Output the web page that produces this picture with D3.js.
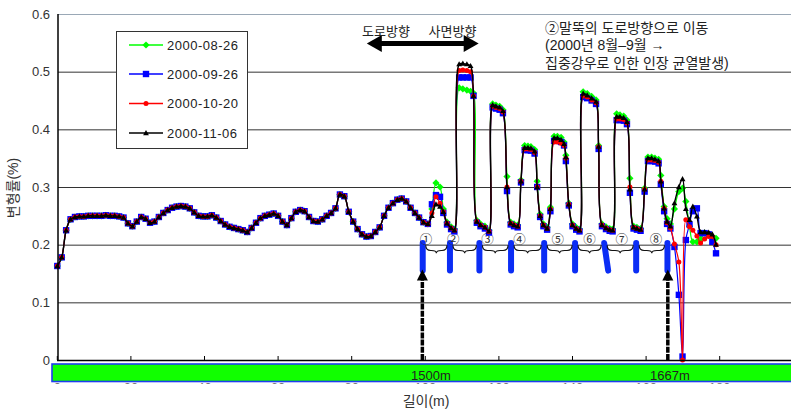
<!DOCTYPE html>
<html>
<head>
<meta charset="utf-8">
<script src="https://cdn.jsdelivr.net/npm/d3@7"></script>
<style>
  body { margin: 0; background: #fff; }
  text { font-family: "Liberation Sans", "Noto Sans CJK KR", sans-serif; }
</style>
</head>
<body>
<div id="chart"></div>
<script>
"use strict";

// measuring points along the slope (x axis units)
var dist = [
  0, 1.2, 2.4, 3.6, 4.8, 6, 7.2, 8.4, 9.6, 10.8,
  12, 13.2, 14.4, 15.6, 16.8, 18, 19.2, 20.4, 21.6, 22.8,
  24, 25.2, 26.4, 27.6, 28.8, 30, 31.2, 32.4, 33.6, 34.8,
  36, 37.2, 38.4, 39.6, 40.8, 42, 43.2, 44.4, 45.6, 46.8,
  48, 49.2, 50.4, 51.6, 52.8, 54, 55.2, 56.4, 57.6, 58.8,
  60, 61.2, 62.4, 63.6, 64.8, 66, 67.2, 68.4, 69.6, 70.8,
  72, 73.2, 74.4, 75.6, 76.8, 78, 79.2, 80.4, 81.6, 82.8,
  84, 85.2, 86.4, 87.6, 88.8, 90, 91.2, 92.4, 93.6, 94.8,
  96.0, 97.2, 98.3, 99.5, 100.7, 101.8, 102.9, 104.0, 104.9, 105.9,
  107.0, 107.9, 109.2, 110.2, 111.3, 112.3, 113.1, 114.0, 115.0, 116.2,
  117.3, 118.3, 119.2, 120.2, 121.1, 122.2, 123.2, 124.1, 125.1, 126.0,
  127.0, 127.9, 128.7, 129.7, 130.4, 131.2, 132.1, 133.1, 134.0, 135.0,
  135.9, 136.9, 137.7, 138.2, 139.0, 140.0, 141.0, 141.9, 142.9, 144.0,
  145.2, 146.4, 147.1, 148.0, 149.1, 150.1, 150.9, 152.0, 152.9, 153.9,
  154.8, 155.6, 156.6, 157.5, 158.5, 159.6, 160.5, 161.5, 162.4, 163.4,
  164.0, 164.9, 165.7, 166.6, 167.7, 168.9, 169.9, 170.8, 171.8, 172.7,
  173.8, 174.8, 175.9, 177.0, 178.0, 179.0
];

// first 85 points: the four surveys lie on top of each other
var lead = [
  0.163, 0.178, 0.225, 0.244, 0.248, 0.249, 0.249, 0.250, 0.250, 0.250,
  0.250, 0.251, 0.250, 0.250, 0.249, 0.247, 0.237, 0.232, 0.240, 0.248,
  0.245, 0.238, 0.240, 0.248, 0.255, 0.260, 0.264, 0.266, 0.267, 0.266,
  0.263, 0.256, 0.250, 0.249, 0.249, 0.251, 0.247, 0.241, 0.235, 0.231,
  0.229, 0.227, 0.225, 0.222, 0.229, 0.238, 0.246, 0.250, 0.252, 0.254,
  0.250, 0.240, 0.234, 0.246, 0.257, 0.260, 0.258, 0.248, 0.241, 0.240,
  0.244, 0.250, 0.255, 0.263, 0.287, 0.284, 0.257, 0.240, 0.227, 0.218,
  0.214, 0.215, 0.222, 0.230, 0.250, 0.264, 0.272, 0.278, 0.280, 0.275,
  0.264, 0.255, 0.247, 0.239, 0.236
];

var tail0826 = [
  0.262, 0.307, 0.300, 0.262, 0.239, 0.231, 0.227,
  0.472, 0.470, 0.468, 0.466, 0.463, 0.242, 0.236, 0.232, 0.225,
  0.444, 0.442, 0.440, 0.434, 0.318, 0.239, 0.236, 0.234,
  0.312, 0.372, 0.371, 0.370, 0.365, 0.310, 0.253, 0.236, 0.230,
  0.265, 0.388, 0.388, 0.386, 0.378, 0.355, 0.272, 0.236, 0.230, 0.227,
  0.465, 0.462, 0.457, 0.451, 0.372, 0.236, 0.231, 0.228, 0.227,
  0.427, 0.425, 0.423, 0.416, 0.315, 0.232, 0.230, 0.228,
  0.298, 0.352, 0.352, 0.350, 0.348, 0.320, 0.266, 0.245,
  0.236, 0.262, 0.292, 0.298, 0.275, 0.232, 0.205, 0.205, 0.210, 0.220, 0.218, 0.214, 0.211
];
var tail0926 = [
  0.270, 0.286, 0.283, 0.255, 0.235, 0.227, 0.223,
  0.490, 0.490, 0.490, 0.490, 0.458, 0.238, 0.232, 0.228, 0.221,
  0.438, 0.436, 0.434, 0.428, 0.293, 0.235, 0.232, 0.230,
  0.308, 0.364, 0.364, 0.363, 0.358, 0.300, 0.248, 0.232, 0.226,
  0.258, 0.380, 0.380, 0.378, 0.372, 0.345, 0.268, 0.232, 0.226, 0.223,
  0.456, 0.454, 0.450, 0.444, 0.366, 0.232, 0.227, 0.224, 0.223,
  0.416, 0.416, 0.415, 0.409, 0.290, 0.228, 0.226, 0.224,
  0.292, 0.345, 0.345, 0.344, 0.341, 0.305, 0.258, 0.236,
  0.228, 0.196, 0.113, 0.006, 0.208, 0.235, 0.258, 0.263, 0.220, 0.220, 0.218, 0.205, 0.185
];
var tail1020 = [
  0.255, 0.283, 0.272, 0.257, 0.237, 0.229, 0.225,
  0.502, 0.503, 0.502, 0.500, 0.458, 0.240, 0.234, 0.230, 0.223,
  0.440, 0.438, 0.436, 0.430, 0.300, 0.237, 0.234, 0.232,
  0.310, 0.366, 0.366, 0.365, 0.360, 0.300, 0.250, 0.234, 0.228,
  0.262, 0.378, 0.378, 0.376, 0.372, 0.350, 0.270, 0.234, 0.228, 0.225,
  0.458, 0.456, 0.451, 0.446, 0.370, 0.234, 0.229, 0.226, 0.225,
  0.418, 0.418, 0.417, 0.411, 0.300, 0.230, 0.228, 0.226,
  0.296, 0.347, 0.347, 0.346, 0.343, 0.310, 0.263, 0.238,
  0.229, 0.201, 0.170, 0.000, 0.243, 0.231, 0.225, 0.215, 0.203, 0.210, 0.214, 0.214, 0.200
];
var tail1106 = [
  0.250, 0.270, 0.266, 0.257, 0.237, 0.229, 0.225,
  0.513, 0.514, 0.513, 0.510, 0.458, 0.240, 0.234, 0.230, 0.223,
  0.442, 0.440, 0.438, 0.432, 0.300, 0.237, 0.234, 0.232,
  0.310, 0.368, 0.368, 0.367, 0.362, 0.300, 0.250, 0.234, 0.228,
  0.262, 0.385, 0.385, 0.382, 0.375, 0.352, 0.270, 0.234, 0.228, 0.225,
  0.462, 0.459, 0.454, 0.448, 0.370, 0.234, 0.229, 0.226, 0.225,
  0.422, 0.422, 0.420, 0.413, 0.296, 0.230, 0.228, 0.226,
  0.296, 0.350, 0.350, 0.348, 0.345, 0.310, 0.263, 0.240,
  0.232, 0.272, 0.300, 0.314, 0.262, 0.243, 0.266, 0.249, 0.222, 0.222, 0.221, 0.218, 0.200
];

var names = ["2000-08-26", "2000-09-26", "2000-10-20", "2000-11-06"];
var colors = ["#00ff00", "#0000ff", "#ff0000", "#000000"];
var shapes = ["diamond", "square", "circle", "triangle"];
var tails = [tail0826, tail0926, tail1020, tail1106];

var yTicks = [0, 0.1, 0.2, 0.3, 0.4, 0.5, 0.6];
var xTicks = [0, 20, 40, 60, 80, 100, 120, 140, 160, 180, 200];
var xTickLabels = [0, 20, 40, 60, 80, 100, 120, 140, 160, 180];

// piles (blue bars), their numbers and the two marked stations
var pileTopX = [99.3, 106.7, 114.7, 123.3, 132.3, 140.7, 148.6, 157.3, 165.8];
var pileBotX = [99.3, 106.7, 114.7, 123.3, 132.3, 140.7, 149.7, 157.3, 165.8];
var pileNames = ["①", "②", "③", "④", "⑤", "⑥", "⑦", "⑧"];
var pileNameX = [100.2, 107.6, 116.9, 125.6, 136.0, 144.6, 153.4, 162.7];
var stationX = [99.2, 165.9];
var stationNames = ["1500m", "1667m"];

var series = names.map(function (n, i) {
  var v = lead.concat(tails[i]);
  if (v.length !== dist.length) throw new Error(n + " has " + v.length + " points");
  return { name: n, color: colors[i], shape: shapes[i],
           points: v.map(function (d, j) { return { x: dist[j], y: d }; }) };
});

var W = 791, H = 411;
var svg = d3.select("#chart").append("svg").attr("width", W).attr("height", H);
var x = d3.scaleLinear().domain([0, 200]).range([57.3, 793.3]);
var y = d3.scaleLinear().domain([0, 0.6]).range([360, 14]);

// gridlines
svg.selectAll("line.grid").data(yTicks.slice(1)).enter().append("line")
  .attr("x1", 58).attr("x2", W)
  .attr("y1", function (d) { return y(d) + 0.5; }).attr("y2", function (d) { return y(d) + 0.5; })
  .attr("stroke", function (d) { return d === 0.6 ? "#9aa8b6" : "#333"; })
  .attr("stroke-width", 1);

// y labels
svg.selectAll("text.ytick").data(yTicks).enter().append("text")
  .attr("x", 50).attr("y", function (d) { return y(d); })
  .attr("dy", "0.35em").attr("text-anchor", "end")
  .attr("font-size", 13).attr("fill", "#333")
  .text(function (d) { return d === 0 ? "0" : d3.format(".1f")(d); });

svg.append("text")
  .attr("transform", "translate(18,188) rotate(-90)")
  .attr("text-anchor", "middle").attr("font-size", 14).attr("fill", "#333")
  .text("변형률(%)");

// legend (covers the gridlines)
var lg = svg.append("g");
lg.append("rect").attr("x", 116.5).attr("y", 31.5).attr("width", 131).attr("height", 117)
  .attr("fill", "#fff").attr("stroke", "#333").attr("stroke-width", 1);

function marker(sel, shape, color) {
  if (shape === "diamond") sel.append("path").attr("d", "M0,-3.6L3.6,0L0,3.6L-3.6,0Z").attr("fill", color);
  else if (shape === "square") sel.append("path").attr("d", "M-3.2,-3.2h6.4v6.4h-6.4Z").attr("fill", color);
  else if (shape === "circle") sel.append("circle").attr("r", 2.5).attr("fill", color);
  else sel.append("path").attr("d", "M0,-3L2.9,2.2L-2.9,2.2Z").attr("fill", color);
}

var rowY = [45, 74, 103.5, 133];
series.forEach(function (s, i) {
  var g = lg.append("g").attr("transform", "translate(0," + rowY[i] + ")");
  g.append("line").attr("x1", 129).attr("x2", 163).attr("stroke", s.color).attr("stroke-width", 1.3);
  marker(g.append("g").attr("transform", "translate(146,0)"), s.shape, s.color);
  g.append("text").attr("x", 167).attr("dy", "0.36em").attr("font-size", 13)
    .attr("letter-spacing", 0.5).attr("fill", "#222")
    .text(s.name);
});

// piles
svg.selectAll("line.pile").data(pileTopX).enter().append("line")
  .attr("x1", function (d) { return x(d); })
  .attr("x2", function (d, i) { return x(pileBotX[i]); })
  .attr("y1", y(0.203)).attr("y2", y(0.155))
  .attr("stroke", "#0b2df5").attr("stroke-width", 6).attr("stroke-linecap", "round");

// braces between piles
var braces = d3.pairs(pileTopX);
svg.selectAll("path.brace").data(braces).enter().append("path")
  .attr("d", function (p) {
    var x1 = x(p[0]) + 3, x2 = x(p[1]) - 3, xm = (x1 + x2) / 2, r = 5;
    var y0 = y(0.199), y1 = y(0.190), y2 = y(0.185);
    return "M" + x1 + "," + y0 + "Q" + x1 + "," + y1 + " " + (x1 + r) + "," + y1 +
      "L" + (xm - r) + "," + y1 + "Q" + xm + "," + y1 + " " + xm + "," + y2 +
      "Q" + xm + "," + y1 + " " + (xm + r) + "," + y1 +
      "L" + (x2 - r) + "," + y1 + "Q" + x2 + "," + y1 + " " + x2 + "," + y0;
  })
  .attr("fill", "none").attr("stroke", "#111").attr("stroke-width", 1.1);

svg.selectAll("text.pile").data(pileNames).enter().append("text")
  .attr("x", function (d, i) { return x(pileNameX[i]); })
  .attr("y", y(0.201)).attr("text-anchor", "middle")
  .attr("font-size", 12.5).attr("fill", "#333")
  .text(function (d) { return d; });

// station arrows
stationX.forEach(function (sx) {
  var px = x(sx);
  svg.append("line").attr("x1", px).attr("x2", px).attr("y1", y(0)).attr("y2", y(0.14))
    .attr("stroke", "#000").attr("stroke-width", 3.5).attr("stroke-dasharray", "6,1.2");
  svg.append("path")
    .attr("d", "M" + px + "," + y(0.157) + "L" + (px + 5.5) + "," + y(0.138) + "L" + (px - 5.5) + "," + y(0.138) + "Z")
    .attr("fill", "#000");
});

// series: lines then markers, black on top
var line = d3.line().x(function (d) { return x(d.x); }).y(function (d) { return y(d.y); })
  .curve(d3.curveCatmullRom.alpha(0.5));
series.forEach(function (s) {
  svg.append("path").datum(s.points).attr("d", line)
    .attr("fill", "none").attr("stroke", s.color).attr("stroke-width", s.color === "#000000" ? 1.4 : 1.2);
  svg.append("g").selectAll("g").data(s.points).enter().append("g")
    .attr("transform", function (d) { return "translate(" + x(d.x) + "," + y(d.y) + ")"; })
    .each(function () { marker(d3.select(this), s.shape, s.color); });
});

// axes
svg.append("line").attr("x1", 58).attr("x2", 58).attr("y1", 14).attr("y2", 360.5)
  .attr("stroke", "#000").attr("stroke-width", 1.5);
svg.append("line").attr("x1", 57).attr("x2", W).attr("y1", 360.5).attr("y2", 360.5)
  .attr("stroke", "#000").attr("stroke-width", 1.5);
svg.selectAll("line.xtick").data(xTicks).enter().append("line")
  .attr("x1", function (d) { return x(d); }).attr("x2", function (d) { return x(d); })
  .attr("y1", 360).attr("y2", 356).attr("stroke", "#000");

// tick labels mostly hidden under the green band
svg.append("clipPath").attr("id", "tickclip").append("rect")
  .attr("x", 0).attr("y", 381).attr("width", W).attr("height", 3);
svg.append("g").attr("clip-path", "url(#tickclip)")
  .selectAll("text").data(xTickLabels).enter().append("text")
  .attr("x", function (d) { return x(d); }).attr("y", 391.5)
  .attr("text-anchor", "middle").attr("font-size", 13).attr("fill", "#777")
  .text(function (d) { return d; });

svg.append("rect").attr("x", 52).attr("y", 364).attr("width", W).attr("height", 17.5)
  .attr("fill", "#11ff00").attr("stroke", "#1f3cf0").attr("stroke-width", 1.6);

var stationLabelX = [411, 650];
stationNames.forEach(function (n, i) {
  svg.append("text").attr("x", stationLabelX[i]).attr("y", 380)
    .attr("font-size", 13).attr("fill", "#222").text(n);
});

svg.append("text").attr("x", 426).attr("y", 406).attr("text-anchor", "middle")
  .attr("font-size", 14).attr("fill", "#333").text("길이(m)");

// direction arrow at the top
var ax1 = x(84.1), ax2 = x(114.5), ay = y(0.549);
svg.append("line").attr("x1", ax1 + 10).attr("x2", ax2 - 10).attr("y1", ay).attr("y2", ay)
  .attr("stroke", "#000").attr("stroke-width", 5);
svg.append("path").attr("d", "M" + ax1 + "," + ay + "L" + (ax1 + 15) + "," + (ay - 8.5) + "L" + (ax1 + 15) + "," + (ay + 8.5) + "Z");
svg.append("path").attr("d", "M" + ax2 + "," + ay + "L" + (ax2 - 15) + "," + (ay - 8.5) + "L" + (ax2 - 15) + "," + (ay + 8.5) + "Z");
svg.append("text").attr("x", 386).attr("y", 36).attr("text-anchor", "middle")
  .attr("font-size", 13).attr("fill", "#222").text("도로방향");
svg.append("text").attr("x", 452.5).attr("y", 36).attr("text-anchor", "middle")
  .attr("font-size", 13).attr("fill", "#222").text("사면방향");

var note = ["②말뚝의 도로방향으로 이동", "(2000년 8월–9월 →", "집중강우로 인한 인장 균열발생)"];
var noteY = [33, 50, 68];
note.forEach(function (t, i) {
  svg.append("text").attr("x", 545).attr("y", noteY[i])
    .attr("font-size", 14).attr("fill", "#222").text(t);
});
</script>
</body>
</html>
